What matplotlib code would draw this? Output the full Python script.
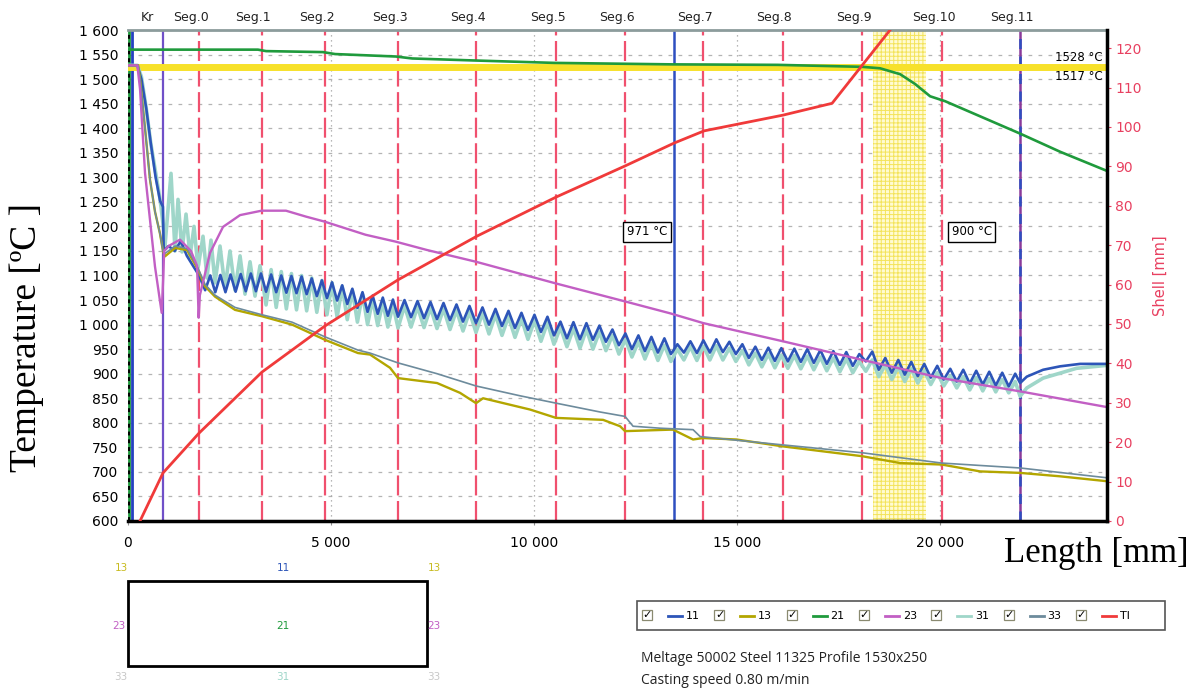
import matplotlib.pyplot as plt
from matplotlib.patches import Rectangle

# ---------------- data ----------------
seg_names = ["Seg.0", "Seg.1", "Seg.2", "Seg.3", "Seg.4", "Seg.5", "Seg.6",
             "Seg.7", "Seg.8", "Seg.9", "Seg.10", "Seg.11"]
seg_x = [1749, 3293, 4852, 6650, 8571, 10540, 12241, 14170, 16125, 18086, 20041, 21970]
red_lines = [1749, 3293, 4852, 6650, 8571, 10540, 12241, 14170, 16125, 18086, 20041]
kr_x = 91
purple_x = 870
blue_x = 13448
seg11_x = 21970
band = (18357, 19648)
liquidus = 1525

t_ticks = list(range(600, 1601, 50))
x_ticks = [0, 5000, 10000, 15000, 20000]
shell_ticks = list(range(0, 121, 10))

# 21 - centre of wide face
t21 = [(0, 1560), (3200, 1560), (3400, 1557), (4800, 1555), (5100, 1551), (6600, 1546),
       (7000, 1542), (8500, 1538), (10500, 1533), (13400, 1530), (16000, 1529),
       (18080, 1525), (18522, 1522), (19015, 1510), (19384, 1490), (19754, 1465),
       (20123, 1455), (21970, 1389), (22956, 1352), (24110, 1313)]

# 23 - middle of narrow face
t23 = [(0, 1528), (230, 1528), (296, 1480), (419, 1309), (542, 1213), (665, 1118),
       (830, 1024), (870, 1100), (890, 1150), (1000, 1160), (1280, 1173), (1550, 1150),
       (1700, 1120), (1740, 1014), (1770, 1060), (2020, 1146), (2340, 1199), (2760, 1223),
       (3290, 1232), (3890, 1232), (4380, 1220), (4830, 1210), (5850, 1183), (6590, 1169),
       (7360, 1152), (8570, 1128), (10530, 1084), (12250, 1047), (13350, 1023),
       (14170, 1003), (16130, 966), (18090, 928), (20040, 891), (21970, 864), (24110, 832)]

# 13 - corner
t13 = [(0, 1528), (250, 1528), (296, 1500), (419, 1400), (542, 1295), (665, 1230),
       (788, 1185), (862, 1150), (911, 1139), (1158, 1156), (1453, 1152), (1724, 1112),
       (1897, 1078), (2143, 1057), (2635, 1030), (3300, 1017), (4039, 1000), (4852, 969),
       (5665, 942), (5960, 939), (6453, 912), (6650, 891), (7611, 881), (8177, 861),
       (8571, 840), (8744, 850), (9901, 827), (10542, 810), (11700, 806), (12118, 793),
       (12241, 783), (13350, 786), (13424, 786), (13916, 766), (14163, 769), (14985, 766),
       (16125, 752), (18079, 732), (19015, 718), (20041, 715), (20985, 701), (21970, 698),
       (22956, 691), (24110, 681)]

# 33 - corner
t33 = [(0, 1528), (250, 1528), (296, 1500), (419, 1400), (542, 1295), (665, 1230),
       (788, 1185), (862, 1150), (911, 1145), (1158, 1160), (1453, 1155), (1724, 1115),
       (1897, 1082), (2143, 1060), (2635, 1035), (3300, 1020), (4039, 1005), (4852, 975),
       (5665, 948), (5960, 942), (6650, 922), (7611, 900), (8571, 875), (9655, 855),
       (10542, 840), (11626, 822), (12241, 813), (12438, 793), (13103, 789), (13916, 786),
       (14090, 772), (16125, 755), (18079, 739), (20041, 718), (21970, 708), (24110, 688)]

# 11 - middle of wide face (top), wiggles from the rolls
t11 = [(0, 1528), (100, 1528), (230, 1528), (330, 1500), (450, 1440), (560, 1370), (680, 1300),
       (790, 1252), (860, 1240), (880, 1150), (1000, 1160), (1150, 1150), (1300, 1170),
       (1450, 1140), (1600, 1120), (1750, 1100),
       (1900, 1070), (2025, 1100), (2150, 1066), (2275, 1101), (2400, 1066), (2525, 1102),
       (2650, 1067), (2775, 1103), (2900, 1068), (3025, 1104), (3150, 1068), (3275, 1104),
       (3400, 1067), (3525, 1102), (3650, 1066), (3775, 1100), (3900, 1065), (4025, 1099),
       (4150, 1064), (4275, 1098), (4400, 1062), (4525, 1094), (4650, 1058), (4775, 1090),
       (4900, 1054), (5025, 1086), (5150, 1049), (5275, 1080), (5400, 1042), (5525, 1073),
       (5650, 1034), (5775, 1066), (5900, 1026), (6025, 1059), (6150, 1022), (6275, 1055),
       (6400, 1018), (6525, 1051), (6650, 1016),
       (6810, 1050), (6970, 1015), (7130, 1048), (7290, 1013), (7450, 1046), (7610, 1011),
       (7770, 1044), (7930, 1009), (8090, 1041), (8250, 1006), (8410, 1038), (8570, 1003),
       (8730, 1035), (8890, 1000), (9050, 1032), (9210, 997), (9370, 1028), (9530, 993),
       (9690, 1024), (9850, 989), (10010, 1020), (10170, 985), (10330, 1016), (10490, 978),
       (10650, 1006), (10810, 972), (10970, 1005), (11130, 970), (11290, 1003), (11450, 969),
       (11610, 998), (11770, 965), (11930, 990), (12090, 958), (12250, 982), (12410, 950),
       (12570, 978), (12730, 946), (12890, 975), (13050, 943), (13210, 972), (13370, 940),
       (13530, 960), (13690, 943), (13850, 966), (14010, 942), (14170, 968), (14330, 943),
       (14490, 970), (14650, 944), (14810, 965), (14970, 940), (15130, 960), (15290, 932),
       (15450, 955), (15610, 928), (15770, 953), (15930, 926), (16090, 952), (16250, 925),
       (16410, 951), (16570, 924), (16730, 950), (16890, 922), (17050, 948), (17210, 920),
       (17370, 946), (17530, 918), (17690, 944), (17850, 916), (18010, 940), (18170, 925),
       (18330, 945), (18490, 908), (18650, 932), (18810, 902), (18970, 928), (19130, 898),
       (19290, 924), (19450, 895), (19610, 920), (19770, 892), (19930, 916), (20090, 888),
       (20250, 910), (20410, 884), (20570, 908), (20730, 880), (20890, 906), (21050, 878),
       (21210, 904), (21370, 876), (21530, 902), (21690, 874), (21850, 900), (21970, 881),
       (22135, 894), (22537, 908), (22956, 915), (23448, 920), (24110, 920)]

# 31 - middle of wide face (bottom)
t31 = [(0, 1528), (100, 1528), (230, 1528), (330, 1505), (450, 1440), (560, 1370), (680, 1310),
       (790, 1255), (870, 1200), (911, 1160), (1059, 1308), (1158, 1150), (1232, 1255),
       (1330, 1148), (1429, 1225), (1527, 1138), (1626, 1200), (1724, 1115), (1847, 1180),
       (1946, 1095), (2044, 1172), (2143, 1085), (2266, 1160), (2389, 1075), (2512, 1150),
       (2635, 1070), (2759, 1140), (2882, 1062), (3005, 1128), (3128, 1058), (3251, 1120),
       (3400, 1040), (3525, 1112), (3650, 1035), (3775, 1108), (3900, 1032), (4025, 1104),
       (4150, 1030), (4275, 1100), (4400, 1028), (4525, 1095), (4650, 1025), (4775, 1090),
       (4900, 1020), (5025, 1085), (5150, 1015), (5275, 1078), (5400, 1010), (5525, 1070),
       (5650, 1005), (5775, 1062), (5900, 1000), (6025, 1052), (6150, 998), (6275, 1045),
       (6400, 995), (6525, 1040), (6650, 993),
       (6810, 1038), (6970, 995), (7130, 1036), (7290, 994), (7450, 1034), (7610, 992),
       (7770, 1032), (7930, 990), (8090, 1029), (8250, 987), (8410, 1026), (8570, 984),
       (8730, 1023), (8890, 981), (9050, 1020), (9210, 978), (9370, 1016), (9530, 974),
       (9690, 1012), (9850, 970), (10010, 1008), (10170, 966), (10330, 1004), (10490, 960),
       (10650, 994), (10810, 955), (10970, 992), (11130, 952), (11290, 990), (11450, 950),
       (11610, 985), (11770, 947), (11930, 978), (12090, 940), (12250, 970), (12410, 934),
       (12570, 965), (12730, 930), (12890, 962), (13050, 927), (13210, 958), (13370, 925),
       (13530, 950), (13690, 928), (13850, 955), (14010, 927), (14170, 956), (14330, 928),
       (14490, 957), (14650, 928), (14810, 952), (14970, 925), (15130, 947), (15290, 918),
       (15450, 942), (15610, 914), (15770, 940), (15930, 912), (16090, 938), (16250, 911),
       (16410, 937), (16570, 910), (16730, 936), (16890, 908), (17050, 934), (17210, 906),
       (17370, 932), (17530, 904), (17690, 930), (17850, 902), (18010, 925), (18170, 905),
       (18330, 928), (18490, 894), (18650, 918), (18810, 888), (18970, 914), (19130, 884),
       (19290, 910), (19450, 881), (19610, 906), (19770, 878), (19930, 902), (20090, 875),
       (20250, 896), (20410, 871), (20570, 894), (20730, 867), (20890, 892), (21050, 865),
       (21210, 890), (21370, 863), (21530, 888), (21690, 861), (21850, 884), (21970, 854),
       (22135, 871), (22537, 891), (23360, 911), (24110, 917)]

# Tl - shell thickness [mm]
shell = [(296, 0), (862, 12.2), (1749, 22.3), (3300, 37.8), (4852, 49.5), (6650, 61.2),
         (8596, 72.3), (10542, 82.2), (12241, 90.1), (13448, 95.9), (14187, 99.0),
         (16133, 103.0), (17340, 106.0), (18768, 124.6), (19100, 129.0)]

series = [("11", t11, "#2d55b8"), ("13", t13, "#b3a600"), ("21", t21, "#1f9a3c"),
          ("23", t23, "#c25fc4"), ("31", t31, "#9fd6c9"), ("33", t33, "#6d8b9c")]
shell_color = "#f03a3a"

# ---------------- figure ----------------
W, H = 1199, 691
fig = plt.figure(figsize=(W / 100, H / 100), dpi=100)
ax = fig.add_axes([128 / W, 1 - 521 / H, 979 / W, 491 / H])
ax.set_xlim(0, 24110)
ax.set_ylim(600, 1600)

sans = "DejaVu Sans"
for y in t_ticks:
    ax.axhline(y, color="#b4b4b4", lw=0.9, ls=(0, (3, 5)), zorder=0)
for x in x_ticks[1:]:
    ax.axvline(x, color="#a0a0a0", lw=0.9, ls=(0, (1, 3)), zorder=0)

plt.rcParams["hatch.linewidth"] = 0.7
ax.axvspan(*band, facecolor="#fffbd2", edgecolor="#f3e35a", hatch="++++", lw=0, zorder=0.5)

for x in red_lines:
    ax.axvline(x, color="#f0506e", lw=1.6, ls=(0, (9, 2.5)), zorder=1)
ax.axvline(20, color="#1f9a3c", lw=2, zorder=1)
ax.axvline(20, color="black", lw=1.4, ls=(0, (2, 2)), zorder=1.1)
ax.axvline(kr_x, color="#2540c0", lw=2, zorder=1)
ax.axvline(purple_x, color="#7050c8", lw=1.6, zorder=1)
ax.axvline(blue_x, color="#2e4fc0", lw=1.8, zorder=1)
ax.axvline(seg11_x, color="#8a3a9a", lw=1.8, zorder=1)
ax.axvline(seg11_x, color="#2e4fc0", lw=1.8, ls=(0, (4, 3)), zorder=1.1)

ax.axhline(liquidus, color="#f7e12a", lw=5, zorder=1.5)

widths = {"11": 1.9, "13": 1.7, "21": 1.9, "23": 1.7, "31": 2.6, "33": 1.2}
order = ["31", "11", "13", "33", "23", "21"]
lookup = {n: (d, c) for n, d, c in series}
for n in order:
    d, c = lookup[n]
    xs, ys = zip(*d)
    ax.plot(xs, ys, color=c, lw=widths[n], zorder=3, solid_joinstyle="round")

ax.set_yticks(t_ticks)
ax.set_yticklabels([f"{v:,}".replace(",", " ") for v in t_ticks], fontsize=10, family=sans)
ax.set_xticks(x_ticks)
ax.set_xticklabels([f"{v:,}".replace(",", " ") for v in x_ticks], fontsize=10, family=sans)
ax.tick_params(axis="y", length=0, pad=7)
ax.tick_params(axis="x", length=3, color="#909090", pad=8)

ax.spines["left"].set_visible(False)
ax.spines["top"].set_color("#8c9c9c")
ax.spines["top"].set_linewidth(2)
ax.spines["bottom"].set_linewidth(2.5)

# segment labels on top
for name, x in zip(seg_names, seg_x):
    ax.annotate(name, (x, 1600), xytext=(-6, 4), textcoords="offset points",
                ha="center", va="bottom", fontsize=9, family=sans, color="#222222")
ax.annotate("Kr", ((kr_x + purple_x) / 2, 1600), xytext=(0, 4), textcoords="offset points",
            ha="center", va="bottom", fontsize=9, family=sans, color="#222222")

ax.text(24000, 1545, "1528 °C", ha="right", va="center", fontsize=8.5, family=sans)
ax.text(24000, 1505, "1517 °C", ha="right", va="center", fontsize=8.5, family=sans)
bbox = dict(boxstyle="square,pad=0.3", fc="white", ec="black", lw=1)
ax.text(12783, 1189, "971 °C", ha="center", va="center", fontsize=8.5, family=sans, bbox=bbox)
ax.text(20776, 1189, "900 °C", ha="center", va="center", fontsize=8.5, family=sans, bbox=bbox)

# shell thickness axis
ax2 = ax.twinx()
ax2.set_ylim(0, 124.6)
xs, ys = zip(*shell)
ax2.plot(xs, ys, color=shell_color, lw=2, zorder=4)
ax2.set_yticks(shell_ticks)
ax2.set_yticklabels([str(v) for v in shell_ticks], fontsize=10, family=sans, color="#e84060")
ax2.tick_params(axis="y", colors="#e84060", length=3, pad=3)
ax2.spines["right"].set_linewidth(2.5)
ax2.spines["right"].set_color("black")
ax2.spines["top"].set_visible(False)
ax2.spines["left"].set_visible(False)
ax2.spines["bottom"].set_visible(False)
ax2.set_ylabel("Shell [mm]", color="#e84060", fontsize=10.5, family=sans, labelpad=8)
ax2.set_xlim(0, 24110)

fig.text(27 / W, 1 - 337 / H, "Temperature [ºC ]", fontsize=27, family="Liberation Serif",
         rotation=90, ha="center", va="center")
fig.text(1096 / W, 1 - 553 / H, "Length [mm]", fontsize=25, family="Liberation Serif",
         ha="center", va="center")

# ---------------- bottom panels (pixel overlay) ----------------
ov = fig.add_axes([0, 0, 1, 1], zorder=-1)
ov.set_xlim(0, W)
ov.set_ylim(H, 0)
ov.axis("off")

ov.add_patch(Rectangle((128, 581), 299, 85, fill=False, ec="black", lw=2))
probe_labels = [("13", 121, 568), ("11", 283, 568), ("13", 434, 568),
                ("23", 119, 626), ("21", 283, 626), ("23", 434, 626),
                ("33", 121, 677), ("31", 283, 677), ("33", 434, 677)]
probe_cols = {"11": "#2d55b8", "13": "#c8bb20", "21": "#1f9a3c", "23": "#c25fc4",
              "31": "#9fd6c9", "33": "#c8c8c8"}
for lab, px, py in probe_labels:
    ov.text(px, py, lab, color=probe_cols[lab], fontsize=7.5, family=sans, ha="center", va="center")

ov.add_patch(Rectangle((637, 601), 528, 29, fill=False, ec="#555555", lw=1.2))
leg_names = ["11", "13", "21", "23", "31", "33", "Tl"]
leg_cols = ["#2d55b8", "#b3a600", "#1f9a3c", "#c25fc4", "#9fd6c9", "#6d8b9c", shell_color]
for i, (lab, c) in enumerate(zip(leg_names, leg_cols)):
    x0 = 642 + i * 72.3
    ov.add_patch(Rectangle((x0, 610), 10, 10, fill=False, ec="#8a8a70", lw=0.9))
    ov.text(x0 + 5.5, 615, "✓", fontsize=8, family=sans, ha="center", va="center")
    ov.plot([x0 + 26, x0 + 40], [616, 616], color=c, lw=2)
    ov.text(x0 + 44, 616, lab, fontsize=8, family=sans, ha="left", va="center")

ov.text(641, 658, "Meltage 50002 Steel 11325 Profile 1530x250", fontsize=10,
        family="Open Sans", ha="left", va="center", color="#222222")
ov.text(641, 681, "Casting speed 0.80 m/min", fontsize=10,
        family="Open Sans", ha="left", va="center", color="#222222")

fig.savefig("out.png", dpi=100)
